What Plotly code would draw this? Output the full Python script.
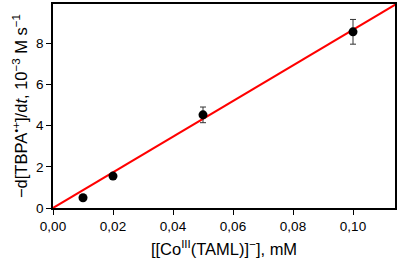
import plotly.graph_objects as go

conc = [0.01, 0.02, 0.05, 0.10]
rate = [0.50, 1.55, 4.52, 8.55]
rate_err = [0.03, 0.12, 0.38, 0.60]
fit_x = [0.0, 0.115]
fit_y = [0.0, 9.95]

fig = go.Figure()
fig.add_trace(go.Scatter(x=fit_x, y=fit_y, mode="lines",
                         line=dict(color="#ff0000", width=2), showlegend=False))
fig.add_trace(go.Scatter(x=conc, y=rate, mode="markers",
                         marker=dict(color="black", size=9),
                         error_y=dict(type="data", array=rate_err, color="#333333",
                                      thickness=1, width=3),
                         showlegend=False))

font = dict(family="Liberation Sans, Arial", size=13.5, color="black")
tfont = dict(family="Liberation Sans, Arial", size=16.5, color="black")
fig.update_layout(
    width=400, height=263,
    margin=dict(l=53, r=5, t=2, b=55),
    plot_bgcolor="white", paper_bgcolor="white",
    separators=",.",
    font=font,
    xaxis=dict(range=[0, 0.114], tickvals=[0, 0.02, 0.04, 0.06, 0.08, 0.10],
               tickformat=".2f", ticks="outside", ticklen=5, tickcolor="black",
               showline=True, linecolor="black", linewidth=1.5, mirror=True,
               showgrid=False, zeroline=False,
               title=dict(text="[[Co<sup>III</sup>(TAML)]<sup>−</sup>], mM", font=tfont, standoff=10)),
    yaxis=dict(range=[0, 9.9], tickvals=[0, 2, 4, 6, 8],
               ticks="outside", ticklen=5, tickcolor="black",
               showline=True, linecolor="black", linewidth=1.5, mirror=True,
               showgrid=False, zeroline=False,
               title=dict(text="−d[TBPA<sup>•+</sup>]/d<i>t</i>, 10<sup>−3</sup> M s<sup>−1</sup>",
                          font=tfont, standoff=4)),
)
fig.write_html("out.html")
